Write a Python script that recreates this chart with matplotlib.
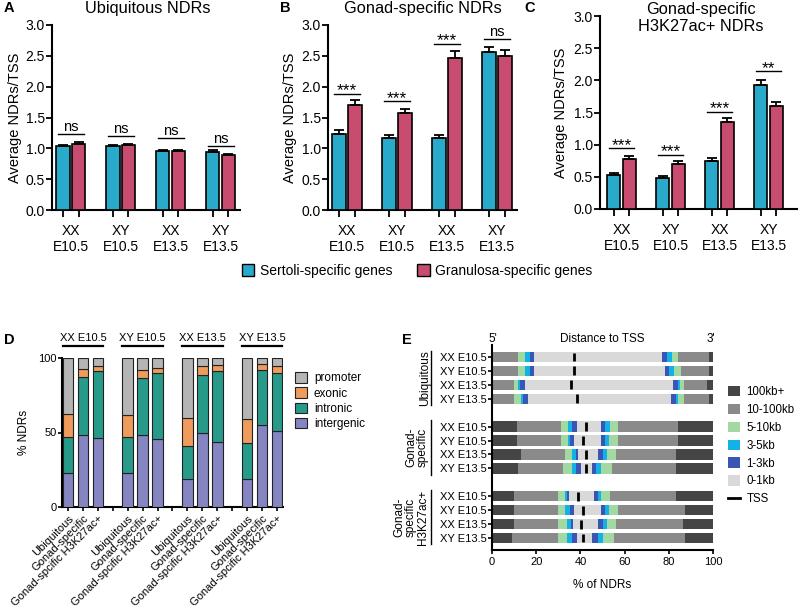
import numpy as np
import matplotlib
matplotlib.use('Agg')
import matplotlib.pyplot as plt
import matplotlib.transforms as mtransforms
from matplotlib.patches import Patch
from matplotlib.lines import Line2D

plt.rcParams['font.family'] = ['Liberation Sans', 'DejaVu Sans']

# ---------------- data ----------------
conditions = ['XX\nE10.5', 'XY\nE10.5', 'XX\nE13.5', 'XY\nE13.5']

ubiq_sertoli = [1.04, 1.04, 0.955, 0.945]
ubiq_sertoli_err = [0.02, 0.02, 0.02, 0.02]
ubiq_granulosa = [1.065, 1.05, 0.96, 0.89]
ubiq_granulosa_err = [0.03, 0.025, 0.02, 0.02]
ubiq_sig = ['ns', 'ns', 'ns', 'ns']
ubiq_sig_y = [1.23, 1.20, 1.16, 1.04]

gonad_sertoli = [1.23, 1.16, 1.16, 2.56]
gonad_sertoli_err = [0.06, 0.05, 0.05, 0.09]
gonad_granulosa = [1.70, 1.57, 2.47, 2.49]
gonad_granulosa_err = [0.08, 0.07, 0.11, 0.11]
gonad_sig = ['***', '***', '***', 'ns']
gonad_sig_y = [1.88, 1.76, 2.70, 2.77]

h3k_sertoli = [0.53, 0.48, 0.75, 1.93]
h3k_sertoli_err = [0.03, 0.03, 0.04, 0.07]
h3k_granulosa = [0.78, 0.70, 1.35, 1.60]
h3k_granulosa_err = [0.04, 0.04, 0.06, 0.07]
h3k_sig = ['***', '***', '***', '**']
h3k_sig_y = [0.945, 0.84, 1.51, 2.14]

# Panel D (12 bars: 4 groups x 3 NDR types), percent
d_groups = ['XX E10.5', 'XY E10.5', 'XX E13.5', 'XY E13.5']
d_types = ['Ubiquitous', 'Gonad-specific', 'Gonad-spcific H3K27ac+']
d_intergenic = [22.5, 48.3, 46.0, 22.5, 48.3, 45.4, 18.7, 50.0, 43.6, 19.0, 55.0, 51.2]
d_intronic = [24.7, 38.7, 45.0, 24.2, 38.2, 44.6, 22.3, 38.3, 47.9, 24.0, 37.0, 38.8]
d_exonic = [15.3, 5.6, 3.4, 15.3, 5.5, 3.3, 18.5, 6.5, 4.0, 16.0, 4.0, 4.4]
d_promoter = [37.5, 7.4, 5.6, 38.0, 8.0, 6.7, 40.5, 5.2, 4.5, 41.0, 4.0, 5.6]

# Panel E: segment widths (%) per row, 5' -> 3':
# up 100kb+, up 10-100kb, up 5-10kb, up 3-5kb, up 1-3kb, up 0-1kb | TSS |
# dn 0-1kb, dn 1-3kb, dn 3-5kb, dn 5-10kb, dn 10-100kb, dn 100kb+
e_row_labels = ['XX E10.5', 'XY E10.5', 'XX E13.5', 'XY E13.5']
e_ubiq = [
    [0.3, 11.6, 3.0, 2.3, 2.0, 18.1, 39.8, 1.9, 2.3, 3.0, 13.9, 1.8],
    [0.3, 11.6, 3.0, 2.3, 2.0, 18.1, 41.0, 1.9, 2.2, 3.0, 12.8, 1.8],
    [0.3, 9.8, 1.8, 0.8, 2.2, 20.7, 46.5, 1.9, 1.1, 1.9, 10.1, 2.9],
    [0.3, 9.8, 3.0, 0.8, 2.2, 22.2, 42.7, 2.1, 1.2, 2.7, 11.2, 1.8],
]
e_gonad = [
    [11.2, 20.0, 3.0, 2.1, 2.0, 4.1, 6.9, 1.8, 2.3, 3.8, 27.1, 15.7],
    [11.2, 20.0, 3.0, 1.1, 2.0, 4.0, 8.0, 1.8, 2.0, 4.1, 27.1, 15.7],
    [13.1, 19.9, 3.0, 1.9, 1.2, 3.3, 5.7, 2.0, 2.1, 3.9, 27.2, 16.7],
    [11.9, 20.1, 4.0, 2.0, 2.1, 2.3, 2.7, 2.0, 2.2, 4.8, 29.2, 16.7],
]
e_h3k = [
    [10.1, 19.9, 3.0, 0.8, 1.2, 4.1, 7.2, 1.8, 1.1, 4.2, 29.9, 16.7],
    [10.1, 19.9, 3.0, 2.3, 2.0, 4.0, 8.0, 1.8, 2.0, 4.1, 30.1, 12.7],
    [10.1, 19.9, 4.1, 1.6, 1.1, 3.5, 7.8, 2.0, 2.1, 3.9, 30.2, 13.7],
    [9.2, 20.8, 4.1, 2.2, 2.0, 3.0, 3.8, 3.0, 2.3, 4.8, 32.1, 12.7],
]
e_group_names = ['Ubiquitous', 'Gonad-\nspecific', 'Gonad-\nspecific\nH3K27ac+']
e_cat_names = ['100kb+', '10-100kb', '5-10kb', '3-5kb', '1-3kb', '0-1kb']

# ---------------- style ----------------
BLUE = '#2aaacb'
RED = '#c84c70'
D_COLORS = {'promoter': '#b5b5b5', 'exonic': '#ef9b5c',
            'intronic': '#279a8a', 'intergenic': '#8585c2'}
E_COLORS = ['#454545', '#8a8a8a', '#a2d8a2', '#12b2e6', '#3a55b4', '#d9d9d9']

W, H = 800, 612
fig = plt.figure(figsize=(8, 6.12), dpi=100)


def fx(x):
    return x / W


def fy(y):
    return 1 - y / H


def rect(l, t, r, b):
    return [fx(l), fy(b), (r - l) / W, (b - t) / H]


def style_axes(ax):
    for s in ['top', 'right']:
        ax.spines[s].set_visible(False)
    for s in ['left', 'bottom']:
        ax.spines[s].set_linewidth(1.5)
        ax.spines[s].set_color('black')


def bar_panel(box, xlim, s, se, g, ge, sig, sigy, ylabel_x):
    ax = fig.add_axes(rect(*box))
    style_axes(ax)
    x = np.arange(len(conditions))
    off, w = 0.157, 0.27
    px_per_unit = (box[3] - box[1]) / 3.0
    ekw = dict(ecolor='black', elinewidth=1.3, capsize=3.5, capthick=1.3)
    ax.bar(x - off, s, w, color=BLUE, edgecolor='black', linewidth=1.2,
           yerr=[np.zeros(len(s)), se], error_kw=ekw, zorder=3)
    ax.bar(x + off, g, w, color=RED, edgecolor='black', linewidth=1.2,
           yerr=[np.zeros(len(g)), ge], error_kw=ekw, zorder=3)
    for i in range(len(x)):
        ax.plot([x[i] - 0.26, x[i] + 0.26], [sigy[i], sigy[i]], color='black',
                lw=1.0, clip_on=False)
        if sig[i] == 'ns':
            ax.text(x[i], sigy[i] + 3.0 / px_per_unit, sig[i], ha='center',
                    va='baseline', fontsize=10.5, clip_on=False)
        else:
            ax.text(x[i], sigy[i] - 1.5 / px_per_unit, sig[i], ha='center',
                    va='baseline', fontsize=12.5, clip_on=False)
    ax.set_xlim(*xlim)
    ax.set_ylim(0, 3.0)
    ax.set_yticks([0, 0.5, 1.0, 1.5, 2.0, 2.5, 3.0])
    ax.set_yticklabels(['0.0', '0.5', '1.0', '1.5', '2.0', '2.5', '3.0'])
    ax.tick_params(axis='y', labelsize=10, length=4, width=1.3, pad=1)
    ax.set_xticks(np.concatenate([x - off, x + off]))
    ax.set_xticklabels([])
    ax.tick_params(axis='x', which='major', length=5, width=1.3)
    ax.set_xticks(x, minor=True)
    ax.set_xticklabels(conditions, minor=True, fontsize=10)
    ax.tick_params(axis='x', which='minor', length=0, pad=10)
    ax.set_ylabel('Average NDRs/TSS', fontsize=10.5)
    ax.yaxis.set_label_coords((ylabel_x - box[0]) / (box[2] - box[0]), 0.5)
    return ax


axA = bar_panel((52, 25, 240, 210), (-0.374, 3.39), ubiq_sertoli, ubiq_sertoli_err,
                ubiq_granulosa, ubiq_granulosa_err, ubiq_sig, ubiq_sig_y, 22)
axB = bar_panel((328, 25, 517, 210), (-0.38, 3.40), gonad_sertoli, gonad_sertoli_err,
                gonad_granulosa, gonad_granulosa_err, gonad_sig, gonad_sig_y, 297)
axC = bar_panel((600, 16, 797, 209), (-0.44, 3.58), h3k_sertoli, h3k_sertoli_err,
                h3k_granulosa, h3k_granulosa_err, h3k_sig, h3k_sig_y, 568)

fig.text(fx(148), fy(9), 'Ubiquitous NDRs', ha='center', va='center', fontsize=11.8)
fig.text(fx(423), fy(9), 'Gonad-specific NDRs', ha='center', va='center', fontsize=11.8)
fig.text(fx(701), fy(18), 'Gonad-specific\nH3K27ac+ NDRs', ha='center', va='center',
         fontsize=11.8, linespacing=1.1)
for lbl, (px, py) in zip('ABCDE', [(4, 8), (280, 8), (524, 8), (4, 340), (402, 340)]):
    fig.text(fx(px), fy(py), lbl, ha='left', va='center', fontsize=10.5, fontweight='bold')

leg_handles = [Patch(facecolor=BLUE, edgecolor='black', linewidth=1.0),
               Patch(facecolor=RED, edgecolor='black', linewidth=1.0)]
fig.legend(leg_handles, ['Sertoli-specific genes', 'Granulosa-specific genes'],
           loc='center', bbox_to_anchor=(fx(417), fy(271)), ncol=2, frameon=False,
           fontsize=10, handlelength=0.9, handleheight=0.9, columnspacing=1.8,
           handletextpad=0.4, borderpad=0)

# ---------------- Panel D ----------------
axD = fig.add_axes(rect(62, 358, 283, 507))
style_axes(axD)
pos = np.array([gi * 4 + j for gi in range(len(d_groups)) for j in range(len(d_types))])
bottom = np.zeros(len(pos))
for name, vals in [('intergenic', d_intergenic), ('intronic', d_intronic),
                   ('exonic', d_exonic), ('promoter', d_promoter)]:
    axD.bar(pos, vals, 0.7, bottom=bottom, color=D_COLORS[name], edgecolor='#222222',
            linewidth=0.8, label=name, zorder=3)
    bottom = bottom + np.array(vals)
axD.set_xlim(-0.4, 14.4)
axD.set_ylim(0, 100)
axD.set_yticks([0, 50, 100])
axD.tick_params(axis='y', labelsize=8, length=3, width=1.2, pad=1)
all_ticks = np.arange(0, 15)
axD.set_xticks(all_ticks)
xl = []
for t in all_ticks:
    xl.append(d_types[t % 4] if t % 4 < 3 else '')
axD.set_xticklabels(xl, rotation=45, ha='right', rotation_mode='anchor', fontsize=8)
axD.tick_params(axis='x', length=3, width=1.2, pad=1.5)
axD.set_ylabel('% NDRs', fontsize=8.5)
axD.yaxis.set_label_coords((30 - 62) / (283 - 62), 0.5)
trD = axD.get_xaxis_transform()
for gi, g in enumerate(d_groups):
    x0, x1 = gi * 4 - 0.35, gi * 4 + 2.35
    axD.plot([x0, x1], [1.08, 1.08], color='black', lw=1.6, transform=trD, clip_on=False)
    axD.text(gi * 4 + 1, 1.135, g, ha='center', va='center', fontsize=8, transform=trD)
d_handles = [Patch(facecolor=D_COLORS[n], edgecolor='#222222', linewidth=0.8)
             for n in ['promoter', 'exonic', 'intronic', 'intergenic']]
fig.legend(d_handles, ['promoter', 'exonic', 'intronic', 'intergenic'], loc='upper left',
           bbox_to_anchor=(fx(295), fy(372)), frameon=False, fontsize=8.5,
           handlelength=1.0, handleheight=1.0, labelspacing=0.25, handletextpad=0.6,
           borderpad=0, borderaxespad=0)

# ---------------- Panel E ----------------
axE = fig.add_axes(rect(492, 345, 713, 550))
style_axes(axE)
rows = e_ubiq + e_gonad + e_h3k
row_pos = np.array([0, 1, 2, 3, 5, 6, 7, 8, 10, 11, 12, 13])
hgt = 0.74
for r, yv in zip(rows, row_pos):
    left = 0.0
    seg_colors = E_COLORS + E_COLORS[::-1]
    for w, c in zip(r, seg_colors):
        axE.barh(yv, w, hgt, left=left, color=c, edgecolor='none', zorder=2)
        left += w
    tss = sum(r[:6])
    axE.plot([tss, tss], [yv - hgt / 2 + 0.05, yv + hgt / 2 - 0.05], color='black',
             lw=2.0, solid_capstyle='butt', zorder=4)
axE.set_xlim(0, 100)
axE.set_ylim(13.86, -0.86)
axE.set_xticks([0, 20, 40, 60, 80, 100])
axE.tick_params(axis='x', labelsize=8, length=3, width=1.2, pad=2)
axE.set_yticks(row_pos)
axE.set_yticklabels(e_row_labels * 3, fontsize=8)
axE.tick_params(axis='y', length=3, width=1.2, pad=1)
axE.set_xlabel('% of NDRs', fontsize=8.5, labelpad=9)
fig.text(fx(493), fy(339), "5'", ha='center', va='center', fontsize=8.5)
fig.text(fx(602), fy(339), 'Distance to TSS', ha='center', va='center', fontsize=8.5)
fig.text(fx(711), fy(339), "3'", ha='center', va='center', fontsize=8.5)
trE = mtransforms.blended_transform_factory(fig.transFigure, axE.transData)
group_label_x = [425, 417, 411]
for gi, name in enumerate(e_group_names):
    r0, r1 = gi * 5, gi * 5 + 3
    fig.add_artist(Line2D([fx(431), fx(431)], [r0 - 0.45, r1 + 0.45], color='black',
                          lw=1.0, transform=trE))
    fig.text(fx(group_label_x[gi]), (r0 + r1) / 2, name, rotation=90, ha='center',
             va='center', fontsize=8.5, linespacing=0.95, transform=trE)
e_handles = [Patch(facecolor=c, edgecolor='none') for c in E_COLORS]
e_handles.append(Line2D([0], [0], color='black', lw=2.0))
fig.legend(e_handles, e_cat_names + ['TSS'], loc='upper left',
           bbox_to_anchor=(fx(728), fy(386)), frameon=False, fontsize=8.3,
           handlelength=1.0, handleheight=1.0, labelspacing=0.5, handletextpad=0.6,
           borderpad=0, borderaxespad=0)

fig.savefig('out.png', dpi=100)
